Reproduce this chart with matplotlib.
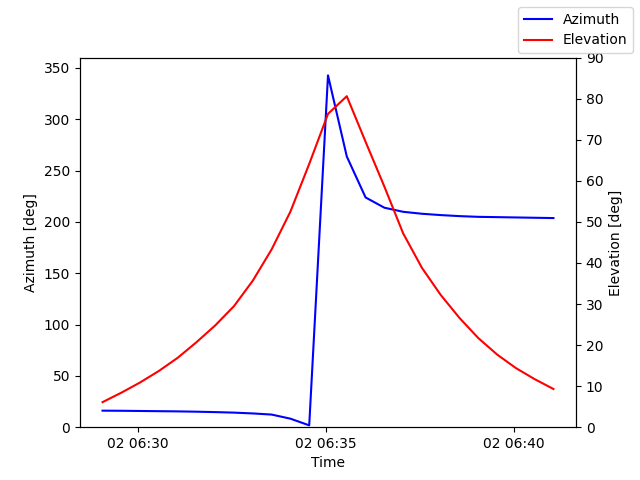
import matplotlib
matplotlib.use("Agg")
import matplotlib.pyplot as plt
import pandas as pd

# pass samples every 30 s
times = pd.date_range("2024-01-02 06:29:03", periods=25, freq="30s")

azimuth = [16.1, 16.0, 15.8, 15.6, 15.4, 15.1, 14.7, 14.2, 13.4, 12.3, 8.3, 1.8,
           342.7, 263.7, 223.8, 213.8, 209.8, 207.9, 206.6, 205.6, 204.9, 204.6,
           204.3, 204.0, 203.7]
elevation = [6.1, 8.4, 10.9, 13.7, 16.9, 20.7, 24.8, 29.5, 35.7, 43.3, 52.5, 64.1,
             76.3, 80.6, 69.5, 58.6, 47.2, 38.8, 32.2, 26.6, 21.7, 17.7, 14.4,
             11.7, 9.3]

fig, ax1 = plt.subplots()
ax1.plot(times, azimuth, color="b", label="Azimuth")
ax1.set_xlabel("Time")
ax1.set_ylabel("Azimuth [deg]")
ax1.set_ylim(0, 360)

ax2 = ax1.twinx()
ax2.plot(times, elevation, color="r", label="Elevation")
ax2.set_ylabel("Elevation [deg]")
ax2.set_ylim(0, 90)

fig.legend()
fig.savefig("out.png")
